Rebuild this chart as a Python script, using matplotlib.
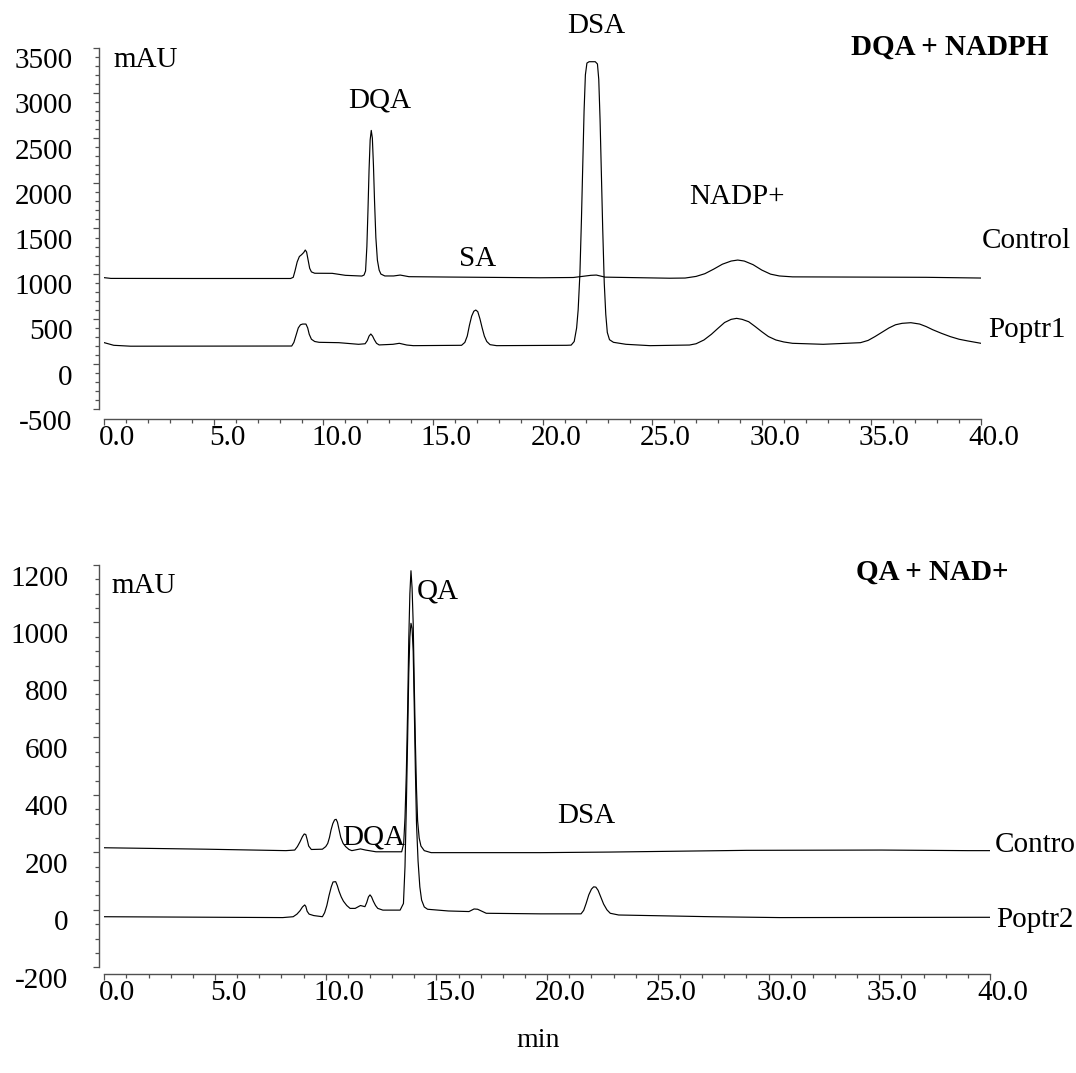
import numpy as np
import matplotlib
matplotlib.use('Agg')
import matplotlib.pyplot as plt
from matplotlib.ticker import MultipleLocator
from matplotlib.transforms import ScaledTranslation

plt.rcParams['font.family'] = 'Liberation Serif'
plt.rcParams['axes.unicode_minus'] = False

#%% data (time in min, signal in mAU)

# top panel : DQA + NADPH
top_ctrl_t = [0.0, 0.3, 4.0, 8.5, 8.62, 8.7, 8.8, 8.9, 9.0, 9.1, 9.17, 9.23, 9.3, 9.37, 9.45,
              9.6, 10.4, 11.0, 11.75, 11.85, 11.92, 11.98, 12.03, 12.08, 12.13, 12.18, 12.23,
              12.28, 12.33, 12.39, 12.46, 12.54, 12.62, 12.8, 13.2, 13.5, 13.9, 15.7, 19.9,
              21.4, 22.2, 22.45, 22.85, 25.8, 26.5, 27.0, 27.4, 27.8, 28.2, 28.6, 28.9, 29.2,
              29.6, 30.0, 30.4, 30.8, 31.4, 37.5, 40.0]
top_ctrl_v = [956, 948, 947, 947, 960, 1030, 1130, 1190, 1210, 1235, 1262, 1240, 1150, 1060, 1020,
              1005, 1004, 982, 974, 985, 1030, 1300, 1700, 2150, 2480, 2585, 2500,
              2200, 1800, 1400, 1150, 1040, 996, 975, 975, 985, 967, 963, 955,
              958, 982, 985, 962, 950, 952, 970, 1000, 1050, 1105, 1140, 1151, 1140,
              1100, 1040, 995, 975, 965, 960, 952]

top_pop_t = [0.0, 0.43, 1.2, 8.55, 8.65, 8.75, 8.85, 8.95, 9.05, 9.2, 9.28, 9.35, 9.45, 9.6,
             9.8, 10.7, 11.6, 11.9, 12.0, 12.08, 12.16, 12.24, 12.32, 12.42, 12.54, 13.17,
             13.46, 13.8, 14.1, 16.3, 16.45, 16.56, 16.66, 16.76, 16.86, 16.95, 17.04, 17.14,
             17.24, 17.34, 17.45, 17.6, 17.9, 21.1, 21.3, 21.44, 21.55, 21.62, 21.7, 21.77,
             21.83, 21.89, 21.95, 22.02, 22.12, 22.4, 22.5, 22.56, 22.62, 22.68, 22.74, 22.81,
             22.88, 22.95, 23.05, 23.23, 23.8, 24.9, 26.7, 27.0, 27.36, 27.7, 28.0, 28.3, 28.6,
             28.85, 29.1, 29.4, 29.7, 30.0, 30.3, 30.64, 31.0, 31.4, 32.8, 34.5, 34.85, 35.16,
             35.5, 35.8, 36.1, 36.4, 36.8, 37.2, 37.5, 37.8, 38.2, 38.6, 39.0, 39.4, 40.0]
top_pop_v = [237, 208, 198, 200, 240, 320, 400, 435, 443, 443, 400, 330, 275, 250,
             241, 237, 219, 225, 260, 310, 333, 310, 270, 230, 212, 219,
             230, 211, 204, 208, 240, 310, 430, 530, 585, 598, 580, 500,
             400, 310, 250, 215, 204, 208, 210, 250, 400, 600, 1000, 1600,
             2200, 2800, 3200, 3330, 3345, 3345, 3320, 3150, 2700, 2100, 1500, 900,
             550, 350, 270, 241, 219, 204, 211, 225, 267, 330, 396, 460, 495,
             506, 495, 469, 415, 358, 305, 267, 245, 230, 219, 237, 262, 304,
             355, 400, 435, 451, 458, 443, 415, 380, 340, 304, 275, 256, 230]

# bottom panel : QA + NAD+
bot_ctrl_t = [0.0, 4.6, 8.2, 8.6, 8.72, 8.84, 8.95, 9.03, 9.1, 9.16, 9.23, 9.35, 9.85, 10.0,
              10.09, 10.17, 10.24, 10.32, 10.4, 10.47, 10.53, 10.6, 10.68, 10.78, 10.9, 11.05,
              11.18, 11.57, 11.8, 12.27, 13.2, 13.43, 13.52, 13.58, 13.64, 13.7, 13.75, 13.8,
              13.85, 13.9, 13.95, 14.0, 14.05, 14.1, 14.15, 14.22, 14.3, 14.45, 14.76, 19.7,
              22.8, 29.0, 35.1, 39.0, 40.0]
bot_ctrl_v = [216, 211, 206, 208, 220, 237, 255, 264, 262, 245, 222, 210, 211, 220,
              231, 252, 278, 300, 313, 315, 305, 280, 252, 232, 220, 210,
              206, 212, 208, 202, 202, 202, 230, 320, 475, 700, 939, 1100,
              1180, 1120, 997, 780, 580, 420, 310, 250, 222, 206, 199, 199,
              201, 207, 208, 206, 206]

bot_pop_t = [0.0, 8.06, 8.53, 8.7, 8.84, 8.95, 9.05, 9.1, 9.16, 9.25, 9.46, 9.85, 9.95, 10.05,
             10.15, 10.25, 10.33, 10.45, 10.52, 10.6, 10.7, 10.8, 10.95, 11.1, 11.33, 11.57,
             11.77, 11.85, 11.93, 12.0, 12.07, 12.15, 12.25, 12.35, 12.58, 13.36, 13.51, 13.58,
             13.64, 13.7, 13.75, 13.8, 13.85, 13.9, 13.95, 14.0, 14.05, 14.1, 14.17, 14.25,
             14.33, 14.45, 14.6, 15.54, 16.47, 16.7, 16.86, 17.25, 19.7, 21.53, 21.65, 21.76,
             21.88, 22.0, 22.1, 22.2, 22.3, 22.42, 22.55, 22.7, 22.85, 23.23, 27.4, 30.5,
             39.6, 40.0]
bot_pop_v = [-24, -27, -24, -15, -3, 10, 17, 12, -5, -15, -20, -24, -10, 15,
             50, 80, 97, 98, 85, 65, 45, 30, 15, 5, 5, 15,
             11, 25, 45, 52, 45, 30, 15, 5, -1, -1, 22, 150,
             359, 600, 823, 950, 997, 980, 900, 700, 480, 300, 170, 80,
             34, 10, 2, -4, -6, 3, 2, -12, -14, -14, -2, 22,
             52, 72, 80, 79, 68, 45, 20, 0, -12, -18, -24, -27,
             -26, -26]

x_ticks = [0, 5, 10, 15, 20, 25, 30, 35, 40]
x_labels = ['0.0', '5.0', '10.0', '15.0', '20.0', '25.0', '30.0', '35.0', '40.0']

FS = 21
AX_COL = '#505050'

W, H = 1076, 1073
fig = plt.figure(figsize=(W / 100, H / 100), dpi=100)

ax1 = fig.add_axes([104.3 / W, 1 - 409.3 / H, (981 - 104.3) / W, (409.3 - 47.7) / H])
ax2 = fig.add_axes([104.3 / W, 1 - 967.3 / H, (990 - 104.3) / W, (967.3 - 565) / H])


def style(ax, ylim, ymaj, ymin, bot_off, ypad):
    ax.set_xlim(0, 40)
    ax.set_ylim(*ylim)
    for s in ['top', 'right']:
        ax.spines[s].set_visible(False)
    for s in ['left', 'bottom']:
        ax.spines[s].set_color(AX_COL)
        ax.spines[s].set_linewidth(1.0)
    ax.spines['left'].set_position(('outward', 3.6))
    ax.spines['bottom'].set_position(('outward', bot_off))
    ax.set_xticks(x_ticks)
    ax.set_xticklabels(x_labels)
    ax.xaxis.set_minor_locator(MultipleLocator(1))
    ax.set_yticks(np.arange(ylim[0], ylim[1] + 1, ymaj))
    ax.yaxis.set_minor_locator(MultipleLocator(ymin))
    ax.tick_params(which='major', direction='out', length=4.3, width=0.9,
                   color=AX_COL, labelsize=FS)
    ax.tick_params(which='minor', direction='out', length=2.6, width=0.9, color=AX_COL)
    ax.tick_params(axis='x', which='major', pad=0)
    ax.tick_params(axis='y', which='major', pad=ypad)
    # the labels sit a little off their ticks in the original export
    for lab in ax.get_xticklabels():
        lab.set_transform(lab.get_transform() + ScaledTranslation(0.13, 0, fig.dpi_scale_trans))
    for lab in ax.get_yticklabels():
        lab.set_transform(lab.get_transform() + ScaledTranslation(0, -0.105, fig.dpi_scale_trans))


style(ax1, (-500, 3500), 500, 100, 7.2, 15)
style(ax2, (-200, 1200), 200, 50, 4.8, 18)

lw = 0.85
ax1.plot(top_ctrl_t, top_ctrl_v, color='black', lw=lw)
ax1.plot(top_pop_t, top_pop_v, color='black', lw=lw)
ax2.plot(bot_ctrl_t, bot_ctrl_v, color='black', lw=lw)
ax2.plot(bot_pop_t, bot_pop_v, color='black', lw=lw)

# top annotations
ax1.text(0.43, 3290, 'mAU', fontsize=FS, va='baseline')
ax1.text(12.58, 2841, 'DQA', fontsize=FS, ha='center', va='baseline')
ax1.text(17.03, 1086, 'SA', fontsize=FS, ha='center', va='baseline')
ax1.text(22.45, 3659, 'DSA', fontsize=FS, ha='center', va='baseline')
ax1.text(28.85, 1771, 'NADP+', fontsize=FS, ha='center', va='baseline')
ax1.text(40.04, 1281, 'Control', fontsize=FS, va='baseline')
ax1.text(40.31, 297, 'Poptr1', fontsize=FS, va='baseline')
ax1.text(38.56, 3427, 'DQA + NADPH', fontsize=FS, ha='center', va='baseline', fontweight='bold')

# bottom annotations
ax2.text(0.3, 1101, 'mAU', fontsize=FS, va='baseline')
ax2.text(14.13, 1084, 'QA', fontsize=FS, va='baseline')
ax2.text(10.74, 226, 'DQA', fontsize=FS, va='baseline')
ax2.text(21.78, 301, 'DSA', fontsize=FS, ha='center', va='baseline')
ax2.text(40.2, 202, 'Contro', fontsize=FS, va='baseline')
ax2.text(40.3, -59, 'Poptr2', fontsize=FS, va='baseline')
ax2.text(37.38, 1150, 'QA + NAD+', fontsize=FS, ha='center', va='baseline', fontweight='bold')

fig.text(538 / W, 1 - 1047 / H, 'min', fontsize=20, ha='center', va='baseline')

fig.savefig('out.png', dpi=100)
